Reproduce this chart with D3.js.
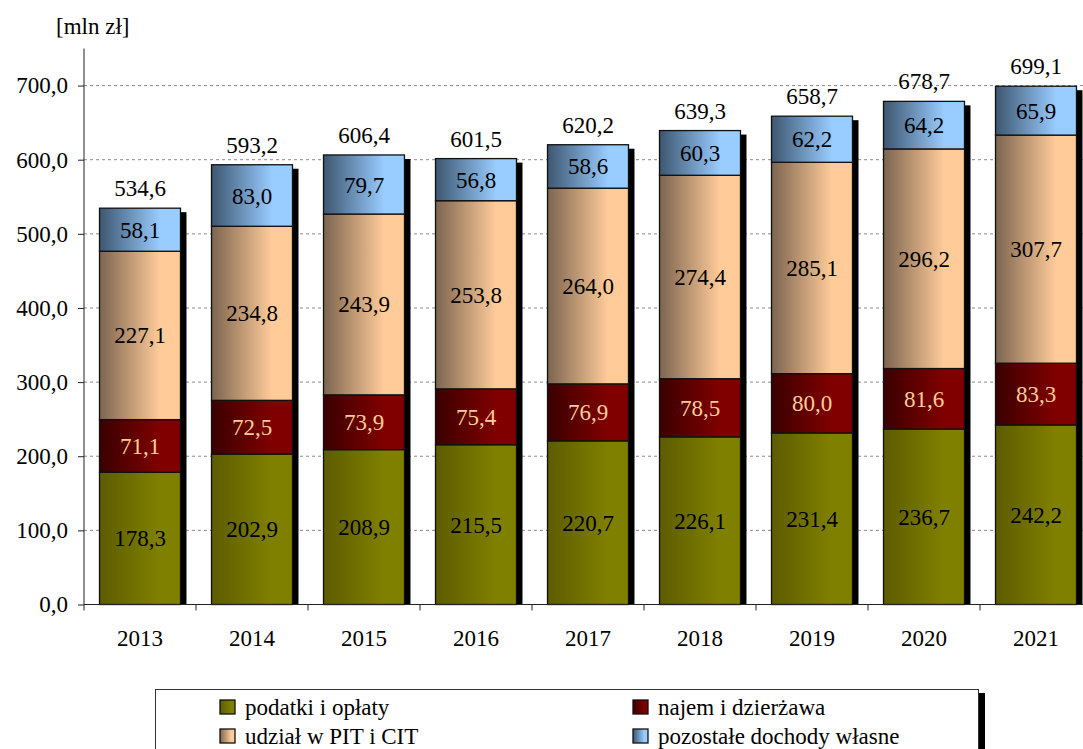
<!DOCTYPE html>
<html><head><meta charset="utf-8">
<script src="https://cdn.jsdelivr.net/npm/d3@7"></script>
<style>body{margin:0;background:#fff}svg{display:block}text{font-family:"Liberation Serif","Times New Roman",serif}</style>
</head><body>
<script>
const years = ["2013","2014","2015","2016","2017","2018","2019","2020","2021"];
const podatki = [178.3,202.9,208.9,215.5,220.7,226.1,231.4,236.7,242.2];
const najem = [71.1,72.5,73.9,75.4,76.9,78.5,80.0,81.6,83.3];
const udzial = [227.1,234.8,243.9,253.8,264.0,274.4,285.1,296.2,307.7];
const pozostale = [58.1,83.0,79.7,56.8,58.6,60.3,62.2,64.2,65.9];
const totals = [534.6,593.2,606.4,601.5,620.2,639.3,658.7,678.7,699.1];
const yTicks = [0,100,200,300,400,500,600,700];
const seriesNames = ["podatki i opłaty","najem i dzierżawa","udział w PIT i CIT","pozostałe dochody własne"];

const W=1083,H=749;
const fmt = v => v.toFixed(1).replace(".",",");
const svg = d3.select("body").append("svg").attr("width",W).attr("height",H);
const defs = svg.append("defs");
const grads = [["#5c5c00","#808000"],["#3a0000","#800000"],["#7d6450","#ffcc99"],["#3d5670","#99ccff"]];
grads.forEach((g,i)=>{
  const lg = defs.append("linearGradient").attr("id","g"+i).attr("x1","0").attr("x2","1").attr("y1","0").attr("y2","0");
  lg.append("stop").attr("offset","0").attr("stop-color",g[0]);
  lg.append("stop").attr("offset","0.75").attr("stop-color",g[1]);
  lg.append("stop").attr("offset","1").attr("stop-color",g[1]);
});
const labelColors = ["#000","#ffcc99","#000","#000"];

const x = d3.scaleBand().domain(years).range([84,1092]).paddingInner(0.277).paddingOuter(0.1385);
const y = d3.scaleLinear().domain([0,750]).range([604.5,48.5]);

// gridlines
svg.append("g").selectAll("line").data(yTicks.filter(t=>t>0)).join("line")
  .attr("x1",84).attr("x2",W).attr("y1",d=>y(d)).attr("y2",d=>y(d))
  .attr("stroke","#8c8c8c").attr("stroke-width",1).attr("stroke-dasharray","3,3");

const seriesData = [podatki,najem,udzial,pozostale];
const rows = years.map((yr,i)=>{const o={year:yr}; seriesNames.forEach((s,k)=>o[s]=seriesData[k][i]); return o;});
const stacked = d3.stack().keys(seriesNames)(rows);

// shadows
svg.append("g").selectAll("rect").data(years).join("rect")
  .attr("x",d=>x(d)+6).attr("y",(d,i)=>y(totals[i])+4)
  .attr("width",x.bandwidth()).attr("height",(d,i)=>y(0)-y(totals[i])-4)
  .attr("fill","#000");

stacked.forEach((s,k)=>{
  const g = svg.append("g");
  g.selectAll("rect").data(s).join("rect")
    .attr("x",d=>x(d.data.year)).attr("y",d=>y(d[1]))
    .attr("width",x.bandwidth()).attr("height",d=>y(d[0])-y(d[1]))
    .attr("fill","url(#g"+k+")").attr("stroke","#111").attr("stroke-width",1.3);
  g.selectAll("text").data(s).join("text")
    .attr("x",d=>x(d.data.year)+x.bandwidth()/2).attr("y",d=>(y(d[0])+y(d[1]))/2)
    .attr("dy","0.35em").attr("text-anchor","middle").attr("font-size",23)
    .attr("fill",labelColors[k]).text(d=>fmt(d[1]-d[0]));
});

// totals
svg.append("g").selectAll("text").data(years).join("text")
  .attr("x",d=>x(d)+x.bandwidth()/2).attr("y",(d,i)=>y(totals[i])-12)
  .attr("text-anchor","middle").attr("font-size",23).text((d,i)=>fmt(totals[i]));

// axes
const yAxis = svg.append("g").attr("transform","translate(84,0)")
  .call(d3.axisLeft(y).tickValues(yTicks).tickSize(6).tickPadding(10).tickFormat(fmt));
yAxis.select(".domain").attr("d","M0,"+y(750)+"V"+y(0));
yAxis.selectAll("text").attr("font-size",23).attr("font-family","Liberation Serif").attr("fill","#000");
yAxis.selectAll("line,path").attr("stroke","#222");

const xg = svg.append("g").attr("transform","translate(0,"+y(0)+")");
xg.append("line").attr("x1",84).attr("x2",W).attr("stroke","#222");
xg.selectAll("line.t").data(d3.range(years.length+1)).join("line").attr("class","t")
  .attr("x1",i=>84+i*x.step()).attr("x2",i=>84+i*x.step()).attr("y1",0).attr("y2",6).attr("stroke","#222");
xg.selectAll("text").data(years).join("text")
  .attr("x",d=>x(d)+x.bandwidth()/2).attr("y",33).attr("dy","0.35em")
  .attr("text-anchor","middle").attr("font-size",23).text(d=>d);

svg.append("text").attr("x",56).attr("y",34).attr("font-size",23).text("[mln zł]");

// legend
const lg = svg.append("g");
lg.append("rect").attr("x",162).attr("y",693).attr("width",823).attr("height",80).attr("fill","#000");
lg.append("rect").attr("x",155.5).attr("y",689.5).attr("width",823).attr("height",80).attr("fill","#fff").attr("stroke","#333");
const legPos = [[220,707],[633,707],[220,736],[633,736]];
[0,1,2,3].forEach((k,j)=>{
  const [lx,ly]=legPos[j];
  lg.append("rect").attr("x",lx).attr("y",ly-7).attr("width",15).attr("height",14)
    .attr("fill","url(#g"+k+")").attr("stroke","#111").attr("stroke-width",1.3);
  lg.append("text").attr("x",lx+25).attr("y",ly+8).attr("font-size",23).text(seriesNames[k]);
});
</script>
</body></html>
